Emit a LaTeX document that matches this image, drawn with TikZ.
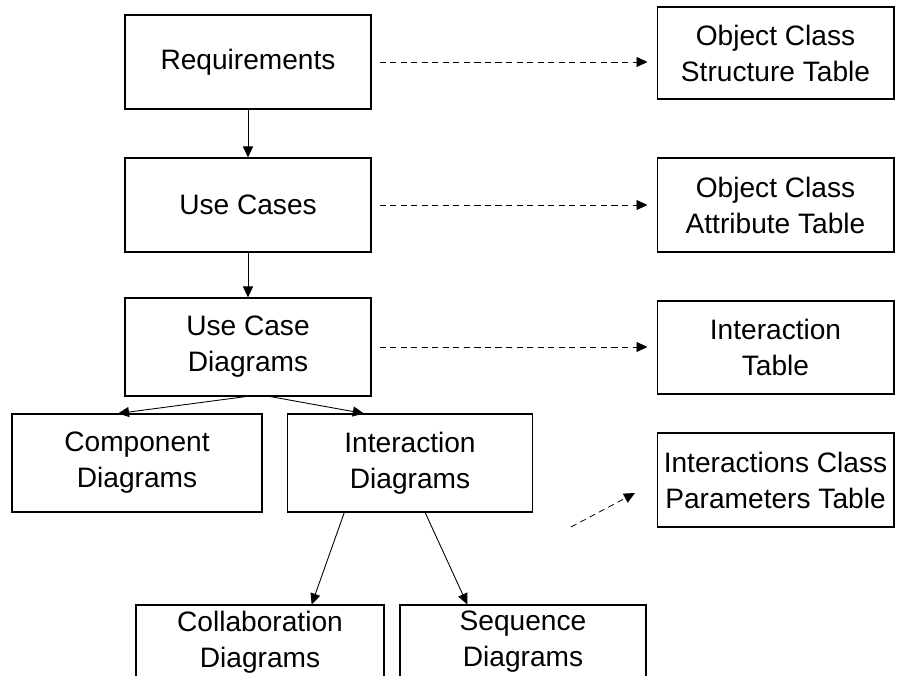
\documentclass[tikz,border=0pt]{standalone}
\usepackage{fontspec}
\setmainfont{Liberation Sans}
\usepackage{tikz}
\usetikzlibrary{arrows.meta,positioning,shapes}

\begin{document}
\begin{tikzpicture}[x=0.02cm, y=-0.02cm,
  box/.style={draw, line width=0.6pt, align=center, inner sep=0pt, font=\fontsize{16}{20.5}\selectfont},
  flow/.style={-{Triangle[length=0.22cm, width=0.2cm]}, line width=0.5pt},
  link/.style={flow, dash pattern=on 3.5pt off 2.5pt, line width=0.45pt, shorten <=0.16cm, shorten >=0.18cm}]
\useasboundingbox (0,0) rectangle (897,676);
\clip (0,0) rectangle (897,676);

\node[box, minimum width=4.92cm, minimum height=1.88cm] (req) at (248,62) {Requirements};
\node[box, minimum width=4.92cm, minimum height=1.88cm] (uc) at (248,205) {Use Cases};
\node[box, minimum width=4.92cm, minimum height=1.96cm] (ucd) at (248,347) {Use Case\\Diagrams};
\node[box, minimum width=5.0cm, minimum height=1.96cm] (comp) at (137,463) {Component\\Diagrams};
\node[box, minimum width=4.9cm, minimum height=1.96cm] (intd) at (410,463) {Interaction\\Diagrams};
\node[box, minimum width=4.96cm, minimum height=1.48cm] (collab) at (260,642) {Collaboration\\Diagrams};
\node[box, minimum width=4.92cm, minimum height=1.48cm] (seq) at (523,642) {Sequence\\Diagrams};

\node[box, minimum width=4.74cm, minimum height=1.84cm] (ost) at (775.5,53) {Object Class\\Structure Table};
\node[box, minimum width=4.74cm, minimum height=1.88cm] (oat) at (775.5,205) {Object Class\\Attribute Table};
\node[box, minimum width=4.74cm, minimum height=1.86cm] (itab) at (775.5,347.5) {Interaction\\Table};
\node[box, minimum width=4.74cm, minimum height=1.88cm] (icpt) at (775.5,480) {Interactions Class\\Parameters Table};

\draw[flow] (req.south) -- (uc.north);
\draw[flow] (uc.south) -- (ucd.north);
\draw[flow] (ucd.268) -- (comp.111);
\draw[flow] (ucd.294) -- (intd.133);
\draw[flow] (intd.217) -- (collab.36);
\draw[flow] (intd.287) -- (seq.146);

\draw[link] (req.east) -- (req.east -| ost.west);
\draw[link] (uc.east) -- (uc.east -| oat.west);
\draw[link] (ucd.east) -- (ucd.east -| itab.west);
\coordinate (loosetail) at (571,527);
\coordinate (loosehead) at (635,493);
\draw[link, shorten <=0pt, shorten >=0pt] (loosetail) -- (loosehead);
\end{tikzpicture}
\end{document}
